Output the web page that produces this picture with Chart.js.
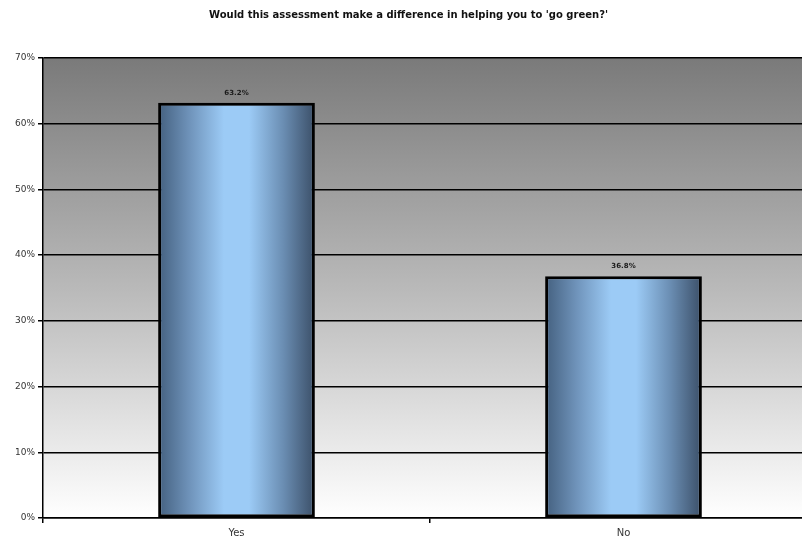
<!DOCTYPE html>
<html>
<head>
<meta charset="utf-8">
<script src="https://cdn.jsdelivr.net/npm/chart.js@4/dist/chart.umd.min.js"></script>
<style>
  html, body { margin: 0; padding: 0; background: #fff; overflow: hidden; }
  #wrap { width: 820px; height: 542px; }
</style>
</head>
<body>
<div id="wrap"><canvas id="canvas" width="820" height="542"></canvas></div>
<script>
var chartTitle = "Would this assessment make a difference in helping you to 'go green?'";
var categories = ['Yes', 'No'];
var answers = [0.632, 0.368];
var answerLabels = ['63.2%', '36.8%'];

var barPct = 0.405;

// grey-to-white fill behind the plot
var plotBackground = {
    id: 'plotBackground',
    beforeDraw: function(chart) {
        var a = chart.chartArea, c = chart.ctx;
        var g = c.createLinearGradient(0, a.top, 0, a.bottom);
        g.addColorStop(0, '#7a7a7a');
        g.addColorStop(0.5, '#b9b9b9');
        g.addColorStop(1, '#ffffff');
        c.save();
        c.fillStyle = g;
        c.fillRect(a.left, a.top, a.right - a.left, a.bottom - a.top);
        c.restore();
    }
};

// value text over each bar
var valueLabels = {
    id: 'valueLabels',
    afterDatasetsDraw: function(chart) {
        var c = chart.ctx;
        var meta = chart.getDatasetMeta(0);
        c.save();
        c.font = 'bold 7px "DejaVu Sans", sans-serif';
        c.fillStyle = '#1a1a1a';
        c.textAlign = 'center';
        c.textBaseline = 'bottom';
        meta.data.forEach(function(bar, i) {
            c.fillText(answerLabels[i], bar.x, bar.y - 6);
        });
        c.restore();
    }
};

function barFill(ctx) {
    var chart = ctx.chart;
    if (!chart.chartArea) return '#88aacc';
    var xs = chart.scales.x;
    var cx = xs.getPixelForValue(ctx.dataIndex);
    var w = (xs.width / categories.length) * barPct;
    var g = chart.ctx.createLinearGradient(cx - w / 2, 0, cx + w / 2, 0);
    g.addColorStop(0, '#44607f');
    g.addColorStop(0.2, '#6f93ba');
    g.addColorStop(0.42, '#9ccbf6');
    g.addColorStop(0.58, '#9ccbf6');
    g.addColorStop(0.8, '#6a8db2');
    g.addColorStop(1, '#3b4f68');
    return g;
}

var ctx = document.getElementById('canvas').getContext('2d');
var myChart = new Chart(ctx, {
    type: 'bar',
    data: {
        labels: categories,
        datasets: [{
            data: answers,
            backgroundColor: barFill,
            borderColor: '#000',
            borderWidth: 3,
            borderSkipped: false,
            barPercentage: barPct,
            categoryPercentage: 1
        }]
    },
    options: {
        responsive: false,
        animation: false,
        layout: { padding: { left: 0, right: 3, top: 0, bottom: 0 } },
        plugins: {
            legend: { display: false },
            tooltip: { enabled: false },
            title: {
                display: true,
                text: chartTitle,
                color: '#111',
                font: { family: '"DejaVu Sans", sans-serif', size: 10, weight: 'bold' },
                padding: { top: 9, bottom: 37 }
            }
        },
        scales: {
            x: {
                offset: true,
                grid: { offset: true, drawOnChartArea: false, color: '#000', tickLength: 5, lineWidth: 1.5 },
                border: { color: '#000', width: 1.5 },
                ticks: { color: '#333', font: { family: '"DejaVu Sans", sans-serif', size: 10 }, padding: 4 },
                afterFit: function(s) { s.height = 24; }
            },
            y: {
                min: 0,
                max: 0.7,
                ticks: {
                    stepSize: 0.1,
                    color: '#333',
                    font: { family: '"DejaVu Sans", sans-serif', size: 9 },
                    padding: 3,
                    callback: function(v) { return Math.round(v * 100) + '%'; }
                },
                grid: { color: '#000', lineWidth: 1.5, tickLength: 5 },
                border: { color: '#000', width: 1.5 },
                afterFit: function(s) { s.width = 43; }
            }
        }
    },
    plugins: [plotBackground, valueLabels]
});
</script>
</body>
</html>
